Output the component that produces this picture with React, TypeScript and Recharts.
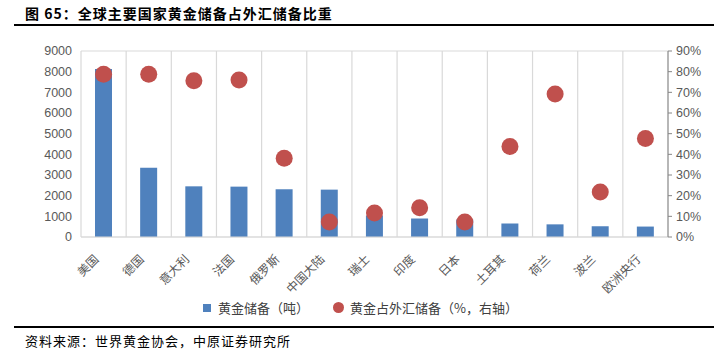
import {
  ComposedChart,
  Bar,
  Scatter,
  XAxis,
  YAxis,
  CartesianGrid,
} from "recharts";

const COUNTRIES = ["美国", "德国", "意大利", "法国", "俄罗斯", "中国大陆", "瑞士", "印度", "日本", "土耳其", "荷兰", "波兰", "欧洲央行"];
const GOLD_TONS = [8133, 3353, 2452, 2437, 2310, 2292, 1040, 895, 846, 650, 612, 520, 505];
const GOLD_PCT = [78.7, 78.7, 75.6, 76.0, 38.1, 7.3, 11.6, 14.1, 7.3, 43.8, 69.2, 21.8, 47.7];
const LEFT_TICKS = [0, 1000, 2000, 3000, 4000, 5000, 6000, 7000, 8000, 9000];
const RIGHT_TICKS = [0, 10, 20, 30, 40, 50, 60, 70, 80, 90];

const CJK = '"Noto Sans CJK SC", sans-serif';
const NUM = '"Liberation Sans", Arial, sans-serif';
const BLUE = "#4F81BD";
const RED = "#C0504D";

const data = COUNTRIES.map((name, i) => ({ name, tons: GOLD_TONS[i], pct: GOLD_PCT[i] }));

const XTick = (props: any) => {
  const { x, y, payload } = props;
  const ax = x - 4;
  const ay = y + 15;
  return (
    <text
      x={ax}
      y={ay}
      transform={`rotate(-45 ${ax} ${ay})`}
      textAnchor="end"
      fontSize={12}
      fontFamily={CJK}
      fill="#595959"
    >
      {payload.value}
    </text>
  );
};

const Dot = (props: any) => {
  const { cx, cy } = props;
  return <circle cx={cx} cy={cy} r={8.5} fill={RED} />;
};

export default function App() {
  return (
    <div style={{ position: "absolute", left: 0, top: 0, width: 728, height: 356, background: "#fff", overflow: "hidden" }}>
      <div style={{ position: "absolute", left: 25, top: 3, fontFamily: CJK, fontWeight: 700, fontSize: 14, letterSpacing: 1, color: "#000" }}>
        图 65：全球主要国家黄金储备占外汇储备比重
      </div>
      <div style={{ position: "absolute", left: 14, top: 24, width: 700, height: 2, background: "#000" }} />

      <div style={{ position: "absolute", left: 0, top: 0 }}>
        <ComposedChart width={728} height={300} data={data} margin={{ top: 51, right: 0, left: 0, bottom: 0 }}>
          <CartesianGrid
            stroke="#D9D9D9"
            strokeWidth={1.2}
            verticalCoordinatesGenerator={({ offset }: any) =>
              COUNTRIES.map((_, i) => offset.left + (i * offset.width) / COUNTRIES.length).concat([offset.left + offset.width])
            }
          />
          <XAxis
            dataKey="name"
            interval={0}
            height={63}
            tick={<XTick />}
            tickLine={false}
            axisLine={{ stroke: "#D9D9D9", strokeWidth: 1.2 }}
          />
          <YAxis
            yAxisId="l"
            orientation="left"
            width={81}
            domain={[0, 9000]}
            ticks={LEFT_TICKS}
            axisLine={false}
            tickLine={false}
            tickSize={0}
            tickMargin={9}
            tick={{ fontSize: 12.5, fontFamily: NUM, fill: "#595959" }}
          />
          <YAxis
            yAxisId="r"
            orientation="right"
            width={60}
            domain={[0, 90]}
            ticks={RIGHT_TICKS}
            tickFormatter={(v: number) => `${v}%`}
            axisLine={{ stroke: "#868686" }}
            tickLine={{ stroke: "#868686" }}
            tickSize={4}
            tickMargin={4}
            tick={{ fontSize: 12.5, fontFamily: NUM, fill: "#595959" }}
          />
          <Bar yAxisId="l" dataKey="tons" fill={BLUE} barSize={17} isAnimationActive={false} />
          <Scatter yAxisId="r" dataKey="pct" fill={RED} shape={<Dot />} isAnimationActive={false} />
        </ComposedChart>
      </div>

      <div style={{ position: "absolute", left: 203, top: 298, display: "flex", alignItems: "center", fontFamily: CJK, fontSize: 13, color: "#404040" }}>
        <span style={{ width: 8, height: 8, background: BLUE, display: "inline-block", marginRight: 7 }} />
        <span>黄金储备（吨）</span>
        <span style={{ width: 11, height: 11, borderRadius: "50%", background: RED, display: "inline-block", marginLeft: 24, marginRight: 6 }} />
        <span>黄金占外汇储备（%，右轴）</span>
      </div>

      <div style={{ position: "absolute", left: 14, top: 326, width: 700, height: 2, background: "#000" }} />
      <div style={{ position: "absolute", left: 25, top: 331, fontFamily: CJK, fontSize: 13, letterSpacing: 1, color: "#000" }}>
        资料来源：世界黄金协会，中原证券研究所
      </div>
    </div>
  );
}
